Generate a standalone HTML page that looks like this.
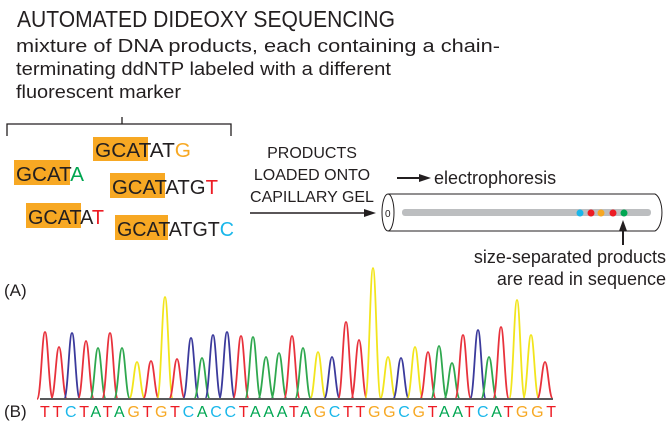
<!DOCTYPE html>
<html><head><meta charset="utf-8"><style>html,body{margin:0;padding:0;background:#fff}svg{display:block}</style></head><body>
<svg width="672" height="427" viewBox="0 0 672 427" xmlns="http://www.w3.org/2000/svg" font-family="Liberation Sans, sans-serif">
<defs>
<path id="pk" d="M-8 0 C-4 0 -3 -1 0 -1 C3 -1 4 0 8 0"/>
</defs>
<rect width="672" height="427" fill="#fff"/>
<text x="17" y="27" font-size="23" fill="#231f20" textLength="378" lengthAdjust="spacingAndGlyphs">AUTOMATED DIDEOXY SEQUENCING</text>
<g font-size="18" fill="#231f20">
<text x="16" y="52" textLength="484" lengthAdjust="spacingAndGlyphs">mixture of DNA products, each containing a chain-</text>
<text x="16" y="75" textLength="375" lengthAdjust="spacingAndGlyphs">terminating ddNTP labeled with a different</text>
<text x="16" y="98" textLength="165" lengthAdjust="spacingAndGlyphs">fluorescent marker</text>
</g>
<path d="M7 136 V124 H231 V136 M122 124 V117" stroke="#231f20" stroke-width="1.3" fill="none"/>
<g font-size="20" fill="#231f20">
<rect x="93" y="137" width="55" height="24" fill="#f7a823"/>
<text x="95" y="157" textLength="96" lengthAdjust="spacingAndGlyphs">GCATAT<tspan fill="#f7a823">G</tspan></text>
<rect x="14" y="160" width="56" height="25" fill="#f7a823"/>
<text x="16" y="181" textLength="68" lengthAdjust="spacingAndGlyphs">GCAT<tspan fill="#00a651">A</tspan></text>
<rect x="110" y="173" width="55" height="25" fill="#f7a823"/>
<text x="112" y="194" textLength="106" lengthAdjust="spacingAndGlyphs">GCATATG<tspan fill="#ed1c24">T</tspan></text>
<rect x="26" y="203" width="55" height="25" fill="#f7a823"/>
<text x="28" y="224" textLength="76" lengthAdjust="spacingAndGlyphs">GCATA<tspan fill="#ed1c24">T</tspan></text>
<rect x="115" y="215" width="53" height="25" fill="#f7a823"/>
<text x="117" y="236" textLength="117" lengthAdjust="spacingAndGlyphs">GCATATGT<tspan fill="#1ab7ea">C</tspan></text>
</g>
<g font-size="16" fill="#231f20" text-anchor="middle">
<text x="312" y="158">PRODUCTS</text>
<text x="312" y="180">LOADED ONTO</text>
<text x="312" y="202">CAPILLARY GEL</text>
</g>
<line x1="250" y1="213" x2="366" y2="213" stroke="#231f20" stroke-width="1.5"/>
<polygon points="376,213 364,209 364,217" fill="#231f20"/>
<line x1="397" y1="178" x2="420" y2="178" stroke="#231f20" stroke-width="2"/>
<polygon points="431,178 419,174 419,182" fill="#231f20"/>
<text x="434" y="184" font-size="18" fill="#231f20">electrophoresis</text>
<path d="M388 194 H655 A9 19 0 0 1 655 231 H388" fill="#fff" stroke="#231f20" stroke-width="1"/>
<rect x="402" y="209" width="249" height="7" rx="3" fill="#bcbec0"/>
<ellipse cx="388" cy="212.5" rx="6" ry="18.5" fill="#fff" stroke="#231f20" stroke-width="1"/>
<text x="385" y="217" font-size="10" fill="#231f20">0</text>
<circle cx="580" cy="213" r="3.5" fill="#1ab7ea"/>
<circle cx="591" cy="213" r="3.5" fill="#ed1c24"/>
<circle cx="601" cy="213" r="3.5" fill="#f7a823"/>
<circle cx="613" cy="213" r="3.5" fill="#ed1c24"/>
<circle cx="624" cy="213" r="3.5" fill="#00a651"/>
<line x1="623" y1="230" x2="623" y2="245" stroke="#231f20" stroke-width="2"/>
<polygon points="623,220 619,231 627,231" fill="#231f20"/>
<g font-size="18" fill="#231f20" text-anchor="end">
<text x="666" y="263">size-separated products</text>
<text x="666" y="285">are read in sequence</text>
</g>
<text x="4" y="296" font-size="17" fill="#231f20">(A)</text>
<text x="4" y="417" font-size="17" fill="#231f20">(B)</text>
<g fill="none" stroke-width="1.8" stroke-linejoin="round">
<path stroke="#e8323c" d="M37 399 C41 399 42 332 45 332 C48 332 49 399 53 399"/>
<path stroke="#e8323c" d="M51 399 C55 399 56 347 59 347 C62 347 63 399 67 399"/>
<path stroke="#3b3a9c" d="M64 399 C68 399 69 333 72 333 C75 333 76 399 80 399"/>
<path stroke="#e8323c" d="M78 399 C82 399 83 341 86 341 C89 341 90 399 94 399"/>
<path stroke="#2fa84f" d="M90 399 C94 399 95 348 98 348 C101 348 102 399 106 399"/>
<path stroke="#e8323c" d="M102 399 C106 399 107 333 110 333 C113 333 114 399 118 399"/>
<path stroke="#2fa84f" d="M114 399 C118 399 119 348 122 348 C125 348 126 399 130 399"/>
<path stroke="#f2e51c" d="M129 399 C133 399 134 362 137 362 C140 362 141 399 145 399"/>
<path stroke="#e8323c" d="M143 399 C147 399 148 361 151 361 C154 361 155 399 159 399"/>
<path stroke="#f2e51c" d="M157 399 C161 399 162 297 165 297 C168 297 169 399 173 399"/>
<path stroke="#e8323c" d="M169 399 C173 399 174 359 177 359 C180 359 181 399 185 399"/>
<path stroke="#3b3a9c" d="M183 399 C187 399 188 338 191 338 C194 338 195 399 199 399"/>
<path stroke="#2fa84f" d="M194 399 C198 399 199 358 202 358 C205 358 206 399 210 399"/>
<path stroke="#3b3a9c" d="M205 399 C209 399 210 335 213 335 C216 335 217 399 221 399"/>
<path stroke="#3b3a9c" d="M219 399 C223 399 224 332 227 332 C230 332 231 399 235 399"/>
<path stroke="#e8323c" d="M233 399 C237 399 238 336 241 336 C244 336 245 399 249 399"/>
<path stroke="#2fa84f" d="M245 399 C249 399 250 337 253 337 C256 337 257 399 261 399"/>
<path stroke="#2fa84f" d="M258 399 C262 399 263 357 266 357 C269 357 270 399 274 399"/>
<path stroke="#2fa84f" d="M271 399 C275 399 276 353 279 353 C282 353 283 399 287 399"/>
<path stroke="#e8323c" d="M284 399 C288 399 289 336 292 336 C295 336 296 399 300 399"/>
<path stroke="#2fa84f" d="M295 399 C299 399 300 348 303 348 C306 348 307 399 311 399"/>
<path stroke="#f2e51c" d="M310 399 C314 399 315 352 318 352 C321 352 322 399 326 399"/>
<path stroke="#3b3a9c" d="M324 399 C328 399 329 357 332 357 C335 357 336 399 340 399"/>
<path stroke="#e8323c" d="M338 399 C342 399 343 322 346 322 C349 322 350 399 354 399"/>
<path stroke="#e8323c" d="M351 399 C355 399 356 340 359 340 C362 340 363 399 367 399"/>
<path stroke="#f2e51c" d="M365 399 C369 399 370 268 373 268 C376 268 377 399 381 399"/>
<path stroke="#f2e51c" d="M380 399 C384 399 385 357 388 357 C391 357 392 399 396 399"/>
<path stroke="#3b3a9c" d="M393 399 C397 399 398 358 401 358 C404 358 405 399 409 399"/>
<path stroke="#f2e51c" d="M407 399 C411 399 412 347 415 347 C418 347 419 399 423 399"/>
<path stroke="#e8323c" d="M420 399 C424 399 425 352 428 352 C431 352 432 399 436 399"/>
<path stroke="#2fa84f" d="M431 399 C435 399 436 346 439 346 C442 346 443 399 447 399"/>
<path stroke="#2fa84f" d="M444 399 C448 399 449 363 452 363 C455 363 456 399 460 399"/>
<path stroke="#e8323c" d="M455 399 C459 399 460 335 463 335 C466 335 467 399 471 399"/>
<path stroke="#3b3a9c" d="M470 399 C474 399 475 330 478 330 C481 330 482 399 486 399"/>
<path stroke="#2fa84f" d="M481 399 C485 399 486 357 489 357 C492 357 493 399 497 399"/>
<path stroke="#e8323c" d="M493 399 C497 399 498 327 501 327 C504 327 505 399 509 399"/>
<path stroke="#f2e51c" d="M509 399 C513 399 514 300 517 300 C520 300 521 399 525 399"/>
<path stroke="#f2e51c" d="M523 399 C527 399 528 335 531 335 C534 335 535 399 539 399"/>
<path stroke="#e8323c" d="M537 399 C541 399 542 362 545 362 C548 362 549 399 553 399"/>
</g>
<line x1="40" y1="399" x2="553" y2="399" stroke="#58595b" stroke-width="2"/>
<text x="40" y="417" font-size="16" textLength="516" lengthAdjust="spacing"><tspan fill="#ed1c24">TT</tspan><tspan fill="#1ab7ea">C</tspan><tspan fill="#ed1c24">T</tspan><tspan fill="#00a651">A</tspan><tspan fill="#ed1c24">T</tspan><tspan fill="#00a651">A</tspan><tspan fill="#f7a823">G</tspan><tspan fill="#ed1c24">T</tspan><tspan fill="#f7a823">G</tspan><tspan fill="#ed1c24">T</tspan><tspan fill="#1ab7ea">C</tspan><tspan fill="#00a651">A</tspan><tspan fill="#1ab7ea">CC</tspan><tspan fill="#ed1c24">T</tspan><tspan fill="#00a651">AAA</tspan><tspan fill="#ed1c24">T</tspan><tspan fill="#00a651">A</tspan><tspan fill="#f7a823">G</tspan><tspan fill="#1ab7ea">C</tspan><tspan fill="#ed1c24">TT</tspan><tspan fill="#f7a823">GG</tspan><tspan fill="#1ab7ea">C</tspan><tspan fill="#f7a823">G</tspan><tspan fill="#ed1c24">T</tspan><tspan fill="#00a651">AA</tspan><tspan fill="#ed1c24">T</tspan><tspan fill="#1ab7ea">C</tspan><tspan fill="#00a651">A</tspan><tspan fill="#ed1c24">T</tspan><tspan fill="#f7a823">GG</tspan><tspan fill="#ed1c24">T</tspan></text>
</svg>
</body></html>
